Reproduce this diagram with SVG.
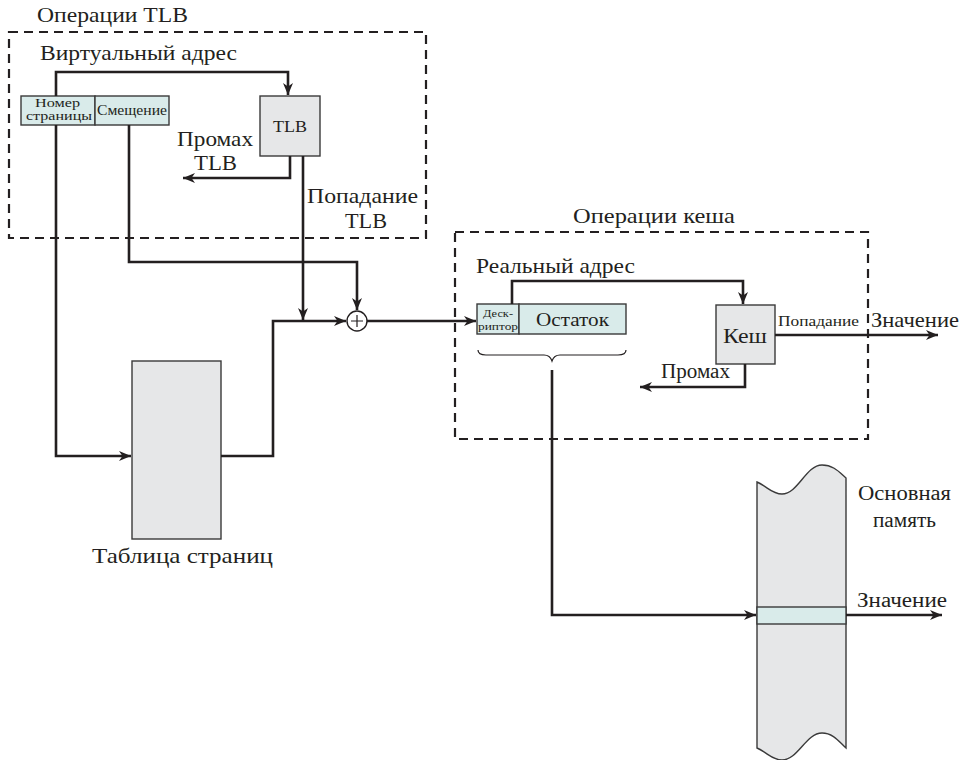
<svg xmlns="http://www.w3.org/2000/svg" width="975" height="760" viewBox="0 0 975 760" font-family="'Liberation Serif', 'Times New Roman', serif">
<defs>
<style>
.dash{fill:none;stroke:#231f20;stroke-width:2.2;stroke-dasharray:9,6}
.ln{fill:none;stroke:#231f20;stroke-width:2.6;stroke-linejoin:miter}
.thin{fill:none;stroke:#231f20;stroke-width:1.2}
.cy{fill:#d9ebea;stroke:#3a3a3a;stroke-width:1.4}
.gr{fill:#e6e7e8;stroke:#3a3a3a;stroke-width:1.4}
.t{font-family:'Liberation Serif','Times New Roman',serif;fill:#231f20}
</style>
<marker id="ah" viewBox="0 0 12 10" refX="12" refY="5" markerWidth="12" markerHeight="10" markerUnits="userSpaceOnUse" orient="auto">
<path d="M0,0 L12,5 L0,10 L3.5,5 Z" fill="#231f20"/>
</marker>
</defs>
<rect width="975" height="760" fill="#fff"/>

<g id="tlb-ops">
<rect class="dash" x="9" y="32" width="417" height="206"/>
<text class="t" x="37" y="22" font-size="21" textLength="151" lengthAdjust="spacingAndGlyphs">Операции TLB</text>
<text class="t" x="40" y="60" font-size="21" textLength="197" lengthAdjust="spacingAndGlyphs">Виртуальный адрес</text>
</g>

<g id="cache-ops">
<rect class="dash" x="455" y="232" width="413" height="207"/>
<text class="t" x="573" y="223" font-size="21" textLength="162" lengthAdjust="spacingAndGlyphs">Операции кеша</text>
<text class="t" x="476" y="273" font-size="21" textLength="159" lengthAdjust="spacingAndGlyphs">Реальный адрес</text>
</g>

<g id="virtual-address">
<rect class="cy" x="21" y="96" width="74" height="29"/>
<rect class="cy" x="95" y="96" width="74" height="29"/>
<text class="t" x="35" y="107" font-size="12.5" textLength="45" lengthAdjust="spacingAndGlyphs">Номер</text>
<text class="t" x="26" y="120" font-size="12.5" textLength="66" lengthAdjust="spacingAndGlyphs">страницы</text>
<text class="t" x="97" y="115" font-size="14" textLength="70" lengthAdjust="spacingAndGlyphs">Смещение</text>
</g>

<g id="tlb">
<rect class="gr" x="260" y="96" width="60" height="60"/>
<text class="t" x="273" y="132" font-size="17" textLength="34" lengthAdjust="spacingAndGlyphs">TLB</text>
</g>

<g id="adder">
<circle cx="357" cy="321" r="10" fill="#fff" stroke="#231f20" stroke-width="1.4"/>
<path class="thin" d="M351,321 H363 M357,315 V327"/>
</g>

<g id="page-table">
<rect class="gr" x="132" y="361" width="89" height="178"/>
<text class="t" x="92" y="563" font-size="21" textLength="181" lengthAdjust="spacingAndGlyphs">Таблица страниц</text>
</g>

<g id="real-address">
<rect class="cy" x="477" y="304" width="42" height="30"/>
<rect class="cy" x="519" y="304" width="107" height="30"/>
<text class="t" x="483" y="317" font-size="11" textLength="30" lengthAdjust="spacingAndGlyphs">Деск-</text>
<text class="t" x="478" y="330" font-size="11" textLength="40" lengthAdjust="spacingAndGlyphs">риптор</text>
<text class="t" x="536" y="326" font-size="19" textLength="73" lengthAdjust="spacingAndGlyphs">Остаток</text>
<path class="thin" d="M478,350 Q478,355 486,355 H544 Q550,355 552,361 Q554,355 560,355 H618 Q626,355 626,350"/>
</g>

<g id="cache">
<rect class="gr" x="716" y="305" width="59" height="59"/>
<text class="t" x="723" y="343" font-size="21" textLength="44" lengthAdjust="spacingAndGlyphs">Кеш</text>
</g>

<g id="main-memory">
<path class="gr" d="M757,482 C768,487 772,494 782,494 C798,494 806,465 822,465 C834,465 840,473 846,478 V748 C840,743 834,733 822,733 C806,733 798,760 782,760 C772,760 768,753 757,748 Z"/>
<rect class="cy" x="757" y="607" width="89" height="17"/>
<text class="t" x="858" y="500" font-size="20" textLength="93" lengthAdjust="spacingAndGlyphs">Основная</text>
<text class="t" x="873" y="527" font-size="20" textLength="63" lengthAdjust="spacingAndGlyphs">память</text>
</g>

<g id="connectors">
<path class="ln" d="M56,96 V72 H288 V95" marker-end="url(#ah)"/>
<path class="ln" d="M290,156 V178 H183" marker-end="url(#ah)"/>
<path class="ln" d="M303,156 V320" marker-end="url(#ah)"/>
<path class="ln" d="M129,125 V262 H357 V310" marker-end="url(#ah)"/>
<path class="ln" d="M56,125 V456 H131" marker-end="url(#ah)"/>
<path class="ln" d="M221,456 H273 V321 H346" marker-end="url(#ah)"/>
<path class="ln" d="M367,321 H476" marker-end="url(#ah)"/>
<path class="ln" d="M512,304 V281 H743 V304" marker-end="url(#ah)"/>
<path class="ln" d="M775,335 H938" marker-end="url(#ah)"/>
<path class="ln" d="M745,364 V387 H640" marker-end="url(#ah)"/>
<path class="ln" d="M552,370 V615 H756" marker-end="url(#ah)"/>
<path class="ln" d="M846,615 H942" marker-end="url(#ah)"/>
<text class="t" x="177" y="146" font-size="21" textLength="76" lengthAdjust="spacingAndGlyphs">Промах</text>
<text class="t" x="194" y="170" font-size="21" textLength="43" lengthAdjust="spacingAndGlyphs">TLB</text>
<text class="t" x="307" y="203" font-size="21" textLength="111" lengthAdjust="spacingAndGlyphs">Попадание</text>
<text class="t" x="345" y="228" font-size="21" textLength="42" lengthAdjust="spacingAndGlyphs">TLB</text>
<text class="t" x="778" y="326" font-size="15" textLength="81" lengthAdjust="spacingAndGlyphs">Попадание</text>
<text class="t" x="871" y="327" font-size="21" textLength="88" lengthAdjust="spacingAndGlyphs">Значение</text>
<text class="t" x="661" y="378" font-size="20" textLength="69" lengthAdjust="spacingAndGlyphs">Промах</text>
<text class="t" x="857" y="607" font-size="20" textLength="90" lengthAdjust="spacingAndGlyphs">Значение</text>
</g>
</svg>
